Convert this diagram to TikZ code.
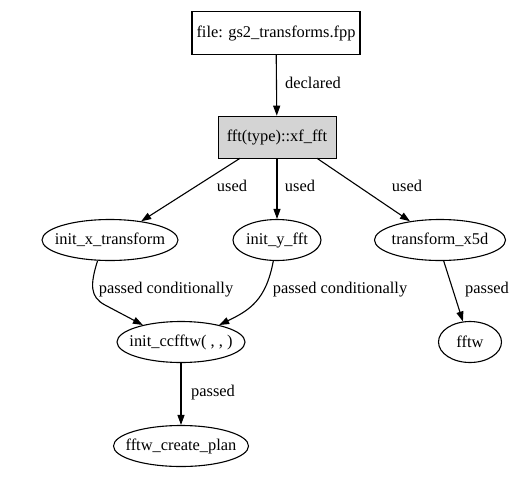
\documentclass[tikz,border=0pt]{standalone}
\usepackage{fontspec}
\setmainfont{Liberation Serif}
\usetikzlibrary{shapes.geometric,arrows.meta}
\newcommand{\zw}[1]{\makebox[0pt]{#1}}
\begin{document}
\begin{tikzpicture}[x=1pt,y=-1pt,
  every node/.style={font=\fontsize{16.4}{19}\selectfont},
  boxnode/.style={draw,line width=1.3pt,minimum height=43pt,inner sep=0pt},
  ellnode/.style={draw,ellipse,line width=1.1pt,minimum height=41pt,inner sep=0pt},
  conn/.style={line width=1.1pt,-{Triangle[length=10pt,width=7pt]}},
  lbl/.style={inner sep=0pt}]
\useasboundingbox (0,0) rectangle (525,480);
\node[boxnode,minimum width=168pt] (file) at (276,33) {\zw{file: gs2\_transforms.fpp}};
\node[draw,line width=0.6pt,fill=black!17,minimum width=118pt,minimum height=42pt,inner sep=0pt] (fft) at (277,137) {\zw{fft(type)::xf\_fft}};
\node[ellnode,minimum width=136pt] (ix) at (110,240) {\zw{init\_x\_transform}};
\node[ellnode,minimum width=88pt] (iy) at (277,240) {\zw{init\_y\_fft}};
\node[ellnode,minimum width=131pt] (t5) at (440,240) {\zw{transform\_x5d}};
\node[ellnode,minimum width=128pt] (cc) at (181,342) {\zw{init\_ccfftw( , , )}};
\node[ellnode,minimum width=63pt] (fftw) at (470,342) {\zw{fftw}};
\node[ellnode,minimum width=135pt] (plan) at (181,446) {\zw{fftw\_create\_plan}};

\draw[conn] (file) -- (fft);
\draw[conn] (fft.south -| 240,0) -- (ix.31);
\draw[conn] (fft) -- (iy);
\draw[conn] (fft.south -| 317,0) -- (t5.148);
\draw[conn] (ix.239) .. controls (90,285) and (90,297) .. (105,305) -- (cc.156);
\draw[conn] (iy.260) .. controls (266,300) and (250,310) .. (cc.24);
\draw[conn] (t5.280) -- (fftw.109);
\draw[conn] (cc) -- (plan);

\node[lbl] (l1) at (313,83) {declared};
\node[lbl] (l2) at (232,186) {used};
\node[lbl] (l3) at (300,186) {used};
\node[lbl] (l4) at (407,186) {used};
\node[lbl] (l5) at (166,290) {passed conditionally};
\node[lbl] (l6) at (340,290) {passed conditionally};
\node[lbl] (l7) at (487,290) {passed};
\node[lbl] (l8) at (213,393) {passed};
\end{tikzpicture}
\end{document}
